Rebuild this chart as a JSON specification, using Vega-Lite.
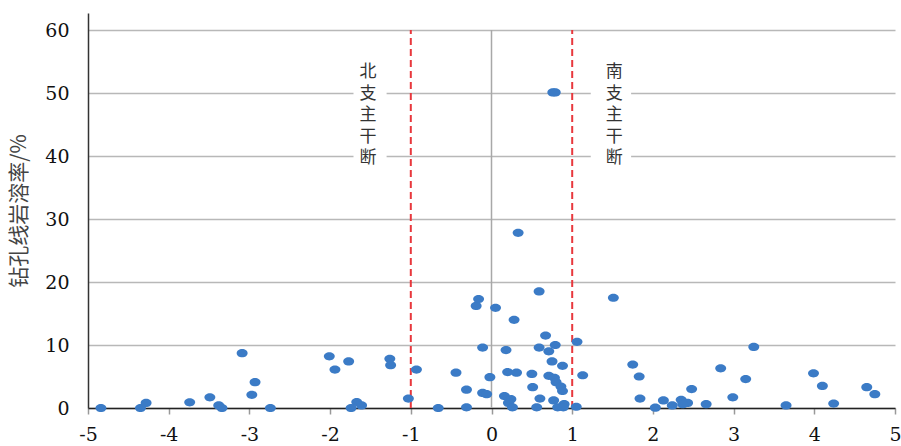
{
  "$schema": "https://vega.github.io/schema/vega-lite/v6.json",
  "width": 807,
  "height": 395,
  "autosize": {"type": "none"},
  "padding": {"left": 88, "top": 13, "right": 6, "bottom": 38},
  "config": {"view": {"stroke": null}},
  "datasets": {
    "pts": [
      {"x": -4.84, "y": 0}, {"x": -4.35, "y": 0}, {"x": -4.28, "y": 0.8}, {"x": -3.74, "y": 0.9},
      {"x": -3.49, "y": 1.7}, {"x": -3.38, "y": 0.4}, {"x": -3.34, "y": 0}, {"x": -3.09, "y": 8.7},
      {"x": -2.93, "y": 4.1}, {"x": -2.97, "y": 2.1}, {"x": -2.74, "y": 0}, {"x": -2.01, "y": 8.2},
      {"x": -1.94, "y": 6.1}, {"x": -1.77, "y": 7.4}, {"x": -1.67, "y": 0.95}, {"x": -1.61, "y": 0.4},
      {"x": -1.74, "y": 0}, {"x": -1.26, "y": 7.8}, {"x": -1.25, "y": 6.8}, {"x": -1.03, "y": 1.5},
      {"x": -0.93, "y": 6.1}, {"x": -0.66, "y": 0}, {"x": -0.44, "y": 5.6}, {"x": -0.31, "y": 2.9},
      {"x": -0.31, "y": 0.1}, {"x": -0.19, "y": 16.2}, {"x": -0.16, "y": 17.3}, {"x": -0.11, "y": 9.6},
      {"x": -0.11, "y": 2.4}, {"x": -0.06, "y": 2.2}, {"x": -0.02, "y": 4.9}, {"x": 0.05, "y": 15.9},
      {"x": 0.28, "y": 14.0}, {"x": 0.33, "y": 27.8}, {"x": 0.18, "y": 9.2}, {"x": 0.2, "y": 5.7},
      {"x": 0.31, "y": 5.6}, {"x": 0.16, "y": 1.9}, {"x": 0.24, "y": 1.4}, {"x": 0.21, "y": 0.8},
      {"x": 0.26, "y": 0.1}, {"x": 0.5, "y": 5.4}, {"x": 0.51, "y": 3.3}, {"x": 0.59, "y": 18.5},
      {"x": 0.59, "y": 9.6}, {"x": 0.6, "y": 1.5}, {"x": 0.56, "y": 0.1}, {"x": 0.67, "y": 11.5},
      {"x": 0.71, "y": 9.0}, {"x": 0.79, "y": 10.0}, {"x": 0.75, "y": 7.4}, {"x": 0.88, "y": 6.7},
      {"x": 0.71, "y": 5.1}, {"x": 0.78, "y": 4.8}, {"x": 0.8, "y": 4.1}, {"x": 0.86, "y": 3.4},
      {"x": 0.88, "y": 2.7}, {"x": 0.77, "y": 1.2}, {"x": 0.9, "y": 0.6}, {"x": 0.82, "y": 0.1},
      {"x": 0.89, "y": 0.1}, {"x": 1.06, "y": 10.5}, {"x": 1.05, "y": 0.2}, {"x": 1.13, "y": 5.2},
      {"x": 0.76, "y": 50.1}, {"x": 0.79, "y": 50.1},
      {"x": 1.51, "y": 17.5}, {"x": 1.75, "y": 6.9}, {"x": 1.83, "y": 5.0}, {"x": 1.84, "y": 1.5},
      {"x": 2.03, "y": 0.05}, {"x": 2.13, "y": 1.2}, {"x": 2.24, "y": 0.4}, {"x": 2.35, "y": 1.3},
      {"x": 2.43, "y": 0.8}, {"x": 2.37, "y": 0.6}, {"x": 2.48, "y": 3.0}, {"x": 2.66, "y": 0.6},
      {"x": 2.84, "y": 6.3}, {"x": 2.99, "y": 1.7}, {"x": 3.15, "y": 4.6}, {"x": 3.25, "y": 9.7},
      {"x": 3.65, "y": 0.4}, {"x": 3.99, "y": 5.5}, {"x": 4.1, "y": 3.5}, {"x": 4.24, "y": 0.7},
      {"x": 4.65, "y": 3.3}, {"x": 4.75, "y": 2.2}
    ],
    "boxes": [
      {"x": -1.71, "x2": -1.3, "y": 38.5, "y2": 55.5},
      {"x": 1.23, "x2": 1.73, "y": 38.5, "y2": 55.5}
    ],
    "rules": [
      {"x": -1, "y": 0, "y2": 60},
      {"x": 1, "y": 0, "y2": 60}
    ],
    "zero": [{"x": 0, "y": 0, "y2": 60}],
    "labels": [
      {"x": -1.53, "y": 54.6, "t": "北\n支\n主\n干\n断"},
      {"x": 1.52, "y": 54.6, "t": "南\n支\n主\n干\n断"}
    ]
  },
  "layer": [
    {
      "data": {"name": "boxes"},
      "mark": {"type": "rect", "fill": "white"},
      "encoding": {
        "x": {
          "field": "x", "type": "quantitative",
          "scale": {"domain": [-5, 5], "nice": false},
          "axis": {
            "title": null, "values": [-5, -4, -3, -2, -1, 0, 1, 2, 3, 4, 5],
            "labelExpr": "datum.value + ''",
            "grid": false, "domainColor": "#222", "domainWidth": 1.5,
            "tickColor": "#999", "tickSize": 6, "tickWidth": 1.5,
            "labelFont": "DejaVu Serif", "labelFontSize": 19, "labelColor": "#111",
            "labelPadding": 11, "labelFlush": false
          }
        },
        "x2": {"field": "x2"},
        "y": {
          "field": "y", "type": "quantitative",
          "scale": {"domain": [0, 62.7], "nice": false},
          "axis": {
            "title": "钻孔线岩溶率/%", "values": [0, 10, 20, 30, 40, 50, 60],
            "labelExpr": "datum.value + ''",
            "grid": true, "gridColor": "#b8b8b8", "gridWidth": 1.5,
            "domainColor": "#333", "domainWidth": 1.5, "ticks": false,
            "labelFont": "DejaVu Serif", "labelFontSize": 19, "labelColor": "#111",
            "labelPadding": 19,
            "titleFont": "Noto Sans CJK SC", "titleFontSize": 21, "titleFontWeight": "normal",
            "titleColor": "#444", "titlePadding": 15
          }
        },
        "y2": {"field": "y2"}
      }
    },
    {
      "data": {"name": "zero"},
      "mark": {"type": "rule", "color": "#a8a8a8", "strokeWidth": 1.5},
      "encoding": {
        "x": {"field": "x", "type": "quantitative"},
        "y": {"field": "y", "type": "quantitative"},
        "y2": {"field": "y2"}
      }
    },
    {
      "data": {"name": "rules"},
      "mark": {"type": "rule", "color": "#e8383d", "strokeWidth": 2, "strokeDash": [7, 4]},
      "encoding": {
        "x": {"field": "x", "type": "quantitative"},
        "y": {"field": "y", "type": "quantitative"},
        "y2": {"field": "y2"}
      }
    },
    {
      "data": {"name": "pts"},
      "mark": {
        "type": "point", "filled": true, "opacity": 1, "color": "#3b7bc6", "size": 120, "clip": false,
        "shape": "M-1,0 A1,0.75 0 1,1 1,0 A1,0.75 0 1,1 -1,0 Z"
      },
      "encoding": {
        "x": {"field": "x", "type": "quantitative"},
        "y": {"field": "y", "type": "quantitative"}
      }
    },
    {
      "data": {"name": "labels"},
      "mark": {
        "type": "text", "font": "Noto Sans CJK SC", "fontSize": 17, "color": "#333",
        "lineBreak": "\n", "lineHeight": 21.5, "baseline": "top", "align": "center"
      },
      "encoding": {
        "x": {"field": "x", "type": "quantitative"},
        "y": {"field": "y", "type": "quantitative"},
        "text": {"field": "t"}
      }
    }
  ]
}
